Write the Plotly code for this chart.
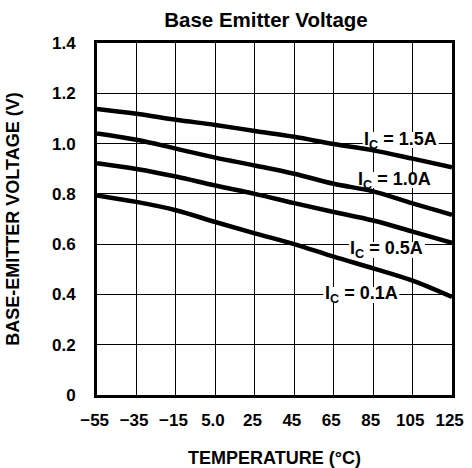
import plotly.graph_objects as go

temperature = [-55, -35, -15, 5, 25, 45, 65, 85, 105, 125]
tick_labels = ["\u221255 ", "\u221235 ", "\u221215 ", "5.0 ", "25 ", "45 ", "65 ", "85 ", "105 ", "125 "]
y_ticks = [0, 0.2, 0.4, 0.6, 0.8, 1.0, 1.2, 1.4]
y_tick_labels = ["0", "0.2", "0.4", "0.6", "0.8", "1.0", "1.2", "1.4"]

series_names = ["I<sub>C</sub> = 1.5A", "I<sub>C</sub> = 1.0A", "I<sub>C</sub> = 0.5A", "I<sub>C</sub> = 0.1A"]
vbe_1_5A = [1.138, 1.119, 1.095, 1.074, 1.050, 1.027, 0.998, 0.973, 0.940, 0.906]
vbe_1_0A = [1.040, 1.015, 0.980, 0.944, 0.913, 0.880, 0.840, 0.810, 0.762, 0.717]
vbe_0_5A = [0.922, 0.899, 0.869, 0.833, 0.800, 0.763, 0.728, 0.694, 0.650, 0.605]
vbe_0_1A = [0.794, 0.768, 0.735, 0.688, 0.643, 0.600, 0.550, 0.504, 0.455, 0.390]
all_series = [vbe_1_5A, vbe_1_0A, vbe_0_5A, vbe_0_1A]

label_pos = [(99, 1.014), (96, 0.855), (92, 0.577), (79, 0.398)]

FONT = "Liberation Sans, Arial, sans-serif"

W, H = 472, 468
ML, MR, MT, MB = 97, 20, 43, 73
xr = [-55, 125]
yr = [0, 1.4]
px_x = (W - ML - MR) / (xr[1] - xr[0])
px_y = (H - MT - MB) / (yr[1] - yr[0])

fig = go.Figure()
for name, vals in zip(series_names, all_series):
    fig.add_trace(go.Scatter(x=temperature, y=vals, mode="lines", name=name,
                             line=dict(color="black", width=4.5), line_shape="spline"))

box_w, box_h = 76, 16
for name, (lx, ly) in zip(series_names, label_pos):
    fig.add_shape(type="rect", layer="between",
                  x0=lx - box_w / 2 / px_x, x1=lx + box_w / 2 / px_x,
                  y0=ly - box_h / 2 / px_y, y1=ly + box_h / 2 / px_y,
                  fillcolor="white", line=dict(width=0))
    fig.add_annotation(x=lx, y=ly, text=name, showarrow=False,
                       font=dict(family=FONT, size=18, color="black", weight="bold"),
                       borderpad=0)

fig.update_layout(
    width=W, height=H,
    margin=dict(l=ML, r=MR, t=MT, b=MB, autoexpand=False),
    paper_bgcolor="white", plot_bgcolor="white",
    showlegend=False,
    title=dict(text="<b>Base Emitter Voltage</b>", x=266 / W, xanchor="center",
               y=1 - 20 / H, yanchor="middle",
               font=dict(family=FONT, size=20.5, color="black")),
    font=dict(family=FONT, color="black"),
)
fig.update_xaxes(range=xr, tickvals=temperature, ticktext=tick_labels, automargin=False,
                 showgrid=True, gridcolor="black", gridwidth=1,
                 showline=True, linecolor="black", linewidth=3, mirror=True,
                 ticks="", ticklabelstandoff=8, zeroline=False,
                 tickfont=dict(family=FONT, size=17, color="black", weight="bold"),
                 title=dict(text="TEMPERATURE (\u00b0C)", standoff=42,
                            font=dict(family=FONT, size=18, color="black", weight="bold")))
fig.update_yaxes(range=yr, tickvals=y_ticks, ticktext=y_tick_labels, automargin=False,
                 showgrid=True, gridcolor="black", gridwidth=1,
                 showline=True, linecolor="black", linewidth=3, mirror=True,
                 ticks="", ticklabelstandoff=15, zeroline=False,
                 tickfont=dict(family=FONT, size=17, color="black", weight="bold"),
                 title=dict(text="BASE-EMITTER VOLTAGE (V)", standoff=28,
                            font=dict(family=FONT, size=18, color="black", weight="bold")))

fig.write_html("out.html", config={"displayModeBar": False},
               post_script="document.body.style.margin='0';")
